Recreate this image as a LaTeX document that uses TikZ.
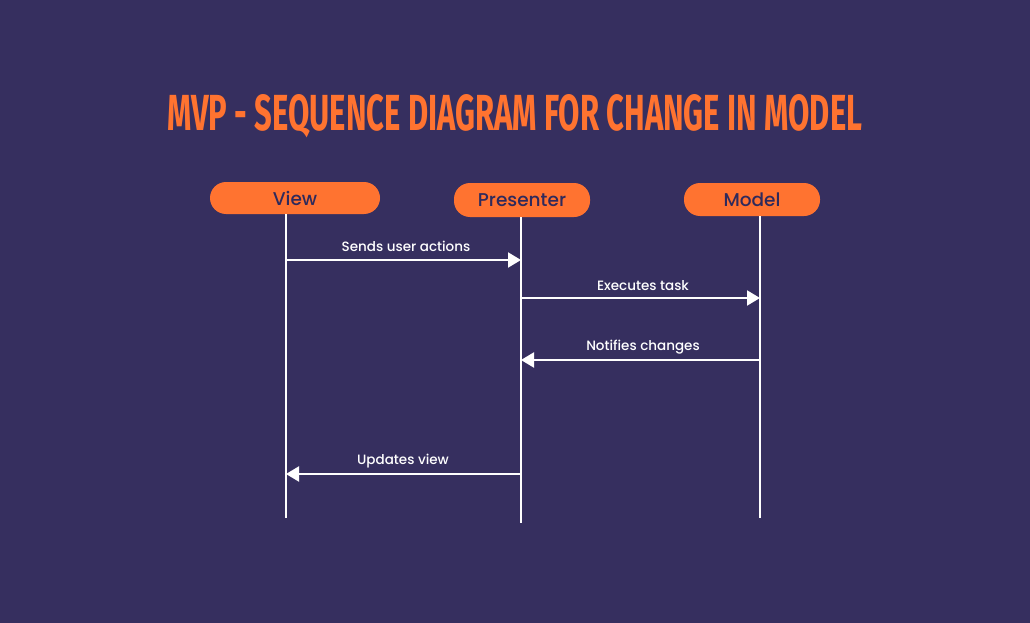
\documentclass[tikz,border=0pt]{standalone}
\usepackage{fontspec}
\setmainfont{Poppins Medium}
\newfontfamily\titlefont{Fira Sans}
\usetikzlibrary{arrows.meta}
\definecolor{bg}{HTML}{362F5F}
\definecolor{orng}{HTML}{FF7330}
\definecolor{navy}{HTML}{2E2A5C}
\tikzset{
  actor/.style={fill=orng, rounded corners=16pt, text=navy, font=\fontsize{18.5}{22}\selectfont, inner sep=0pt, anchor=center},
  life/.style={draw=white, line width=2pt},
  msg/.style={draw=white, line width=2pt, -{Triangle[length=13pt,width=15pt]}},
  lbl/.style={text=white, font=\fontsize{13.5}{16}\selectfont, anchor=base}
}
\begin{document}
\begin{tikzpicture}[x=1pt,y=-1pt]
\fill[bg] (0,0) rectangle (1030,623);
\useasboundingbox (0,0) rectangle (1030,623);
\node[text=orng, anchor=base west, inner sep=0pt] (title) at (167,131)
  {\resizebox{695pt}{36pt}{\titlefont\bfseries MVP - SEQUENCE DIAGRAM FOR CHANGE IN MODEL}};
\node[actor, minimum width=170pt, minimum height=32pt] (view) at (295,198) {View};
\node[actor, minimum width=136pt, minimum height=34pt] (pres) at (522,200) {Presenter};
\node[actor, minimum width=136pt, minimum height=33pt] (model) at (752,199.5) {Model};
\coordinate (vt) at (286,214); \coordinate (vb) at (286,518);
\coordinate (pt) at (521,217); \coordinate (pb) at (521,523);
\coordinate (mt) at (760,216); \coordinate (mb) at (760,518);
\draw[life] (vt) -- (vb);
\draw[life] (pt) -- (pb);
\draw[life] (mt) -- (mb);
\coordinate (a1s) at (286,260); \coordinate (a1e) at (521,260);
\coordinate (a2s) at (521,298); \coordinate (a2e) at (760,298);
\coordinate (a3s) at (760,360); \coordinate (a3e) at (521,360);
\coordinate (a4s) at (521,474); \coordinate (a4e) at (286,474);
\draw[msg] (a1s) -- (a1e);
\draw[msg] (a2s) -- (a2e);
\draw[msg] (a3s) -- (a3e);
\draw[msg] (a4s) -- (a4e);
\node[lbl] (l1) at (406,251) {Sends user actions};
\node[lbl] (l2) at (643,290) {Executes task};
\node[lbl] (l3) at (643,350) {Notifies changes};
\node[lbl] (l4) at (403,464) {Updates view};
\end{tikzpicture}
\end{document}
